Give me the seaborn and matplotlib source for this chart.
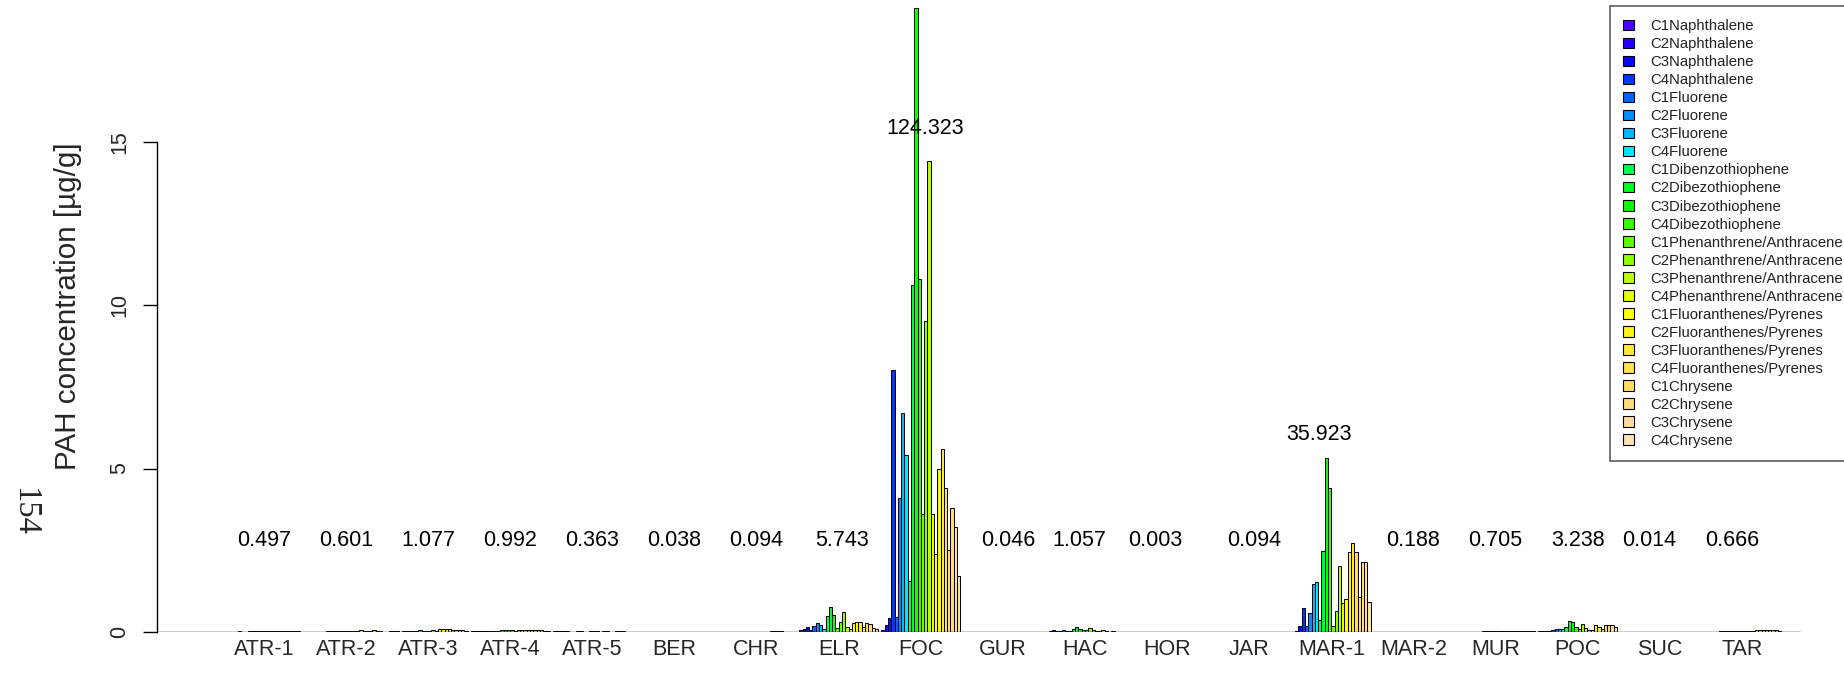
import numpy as np
import pandas as pd
import matplotlib
matplotlib.use("Agg")
import matplotlib.pyplot as plt
import matplotlib.patches as mpatches
import seaborn as sns

# ---------------- data ----------------
sites = ["ATR-1", "ATR-2", "ATR-3", "ATR-4", "ATR-5", "BER", "CHR", "ELR", "FOC",
         "GUR", "HAC", "HOR", "JAR", "MAR-1", "MAR-2", "MUR", "POC", "SUC", "TAR"]

compounds = ["C1Naphthalene", "C2Naphthalene", "C3Naphthalene", "C4Naphthalene",
             "C1Fluorene", "C2Fluorene", "C3Fluorene", "C4Fluorene",
             "C1Dibenzothiophene", "C2Dibezothiophene", "C3Dibezothiophene", "C4Dibezothiophene",
             "C1Phenanthrene/Anthracene", "C2Phenanthrene/Anthracene",
             "C3Phenanthrene/Anthracene", "C4Phenanthrene/Anthracene",
             "C1Fluoranthenes/Pyrenes", "C2Fluoranthenes/Pyrenes",
             "C3Fluoranthenes/Pyrenes", "C4Fluoranthenes/Pyrenes",
             "C1Chrysene", "C2Chrysene", "C3Chrysene", "C4Chrysene"]

totals = ["0.497", "0.601", "1.077", "0.992", "0.363", "0.038", "0.094", "5.743", "124.323",
          "0.046", "1.057", "0.003", "0.094", "35.923", "0.188", "0.705", "3.238", "0.014", "0.666"]

atr1 = [0.01, 0.015, 0.01, 0.015, 0.02, 0.015, 0.0, 0.02, 0.02, 0.025, 0.03, 0.03,
        0.025, 0.03, 0.03, 0.03, 0.03, 0.03, 0.03, 0.03, 0.025, 0.025, 0.02, 0.0]
atr2 = [0.0, 0.01, 0.0, 0.0, 0.015, 0.015, 0.02, 0.02, 0.02, 0.02, 0.025, 0.025,
        0.025, 0.025, 0.03, 0.03, 0.07, 0.03, 0.03, 0.03, 0.07, 0.03, 0.02, 0.0]
atr3 = [0.02, 0.02, 0.02, 0.0, 0.02, 0.03, 0.03, 0.03, 0.03, 0.06, 0.03, 0.03,
        0.04, 0.05, 0.03, 0.08, 0.09, 0.1, 0.08, 0.07, 0.06, 0.06, 0.05, 0.03]
atr4 = [0.02, 0.02, 0.02, 0.02, 0.02, 0.02, 0.02, 0.02, 0.03, 0.06, 0.06, 0.05,
        0.05, 0.04, 0.05, 0.06, 0.06, 0.06, 0.06, 0.06, 0.06, 0.06, 0.04, 0.03]
atr5 = [0.02, 0.02, 0.02, 0.02, 0.02, 0.0, 0.0, 0.02, 0.02, 0.0, 0.0, 0.02,
        0.02, 0.02, 0.0, 0.02, 0.02, 0.0, 0.0, 0.03, 0.03, 0.03, 0.0, 0.0]
ber = [0.0, 0.0, 0.0, 0.0, 0.0, 0.0, 0.0, 0.0, 0.0, 0.0, 0.0, 0.0,
       0.0, 0.0, 0.0, 0.0, 0.01, 0.01, 0.01, 0.008, 0.0, 0.0, 0.0, 0.0]
chr_ = [0.0, 0.0, 0.0, 0.0, 0.0, 0.0, 0.0, 0.0, 0.0, 0.0, 0.0, 0.0,
        0.0, 0.0, 0.015, 0.015, 0.016, 0.016, 0.016, 0.016, 0.0, 0.0, 0.0, 0.0]
elr = [0.05, 0.09, 0.15, 0.05, 0.19, 0.27, 0.21, 0.08, 0.48, 0.76, 0.51, 0.11,
       0.31, 0.6, 0.16, 0.08, 0.27, 0.31, 0.31, 0.14, 0.27, 0.25, 0.11, 0.09]
foc = [0.06, 0.2, 0.43, 8.0, 0.47, 4.1, 6.7, 5.4, 1.55, 10.6, 19.1, 10.8,
       3.6, 9.5, 14.4, 3.6, 2.4, 5.0, 5.6, 4.4, 2.5, 3.8, 3.2, 1.7]
gur = [0.0, 0.0, 0.0, 0.0, 0.0, 0.0, 0.0, 0.0, 0.0, 0.0, 0.0, 0.0,
       0.0, 0.0, 0.0, 0.0, 0.01, 0.01, 0.009, 0.009, 0.008, 0.0, 0.0, 0.0]
hac = [0.01, 0.02, 0.05, 0.02, 0.03, 0.05, 0.02, 0.02, 0.1, 0.16, 0.08, 0.07,
       0.06, 0.12, 0.05, 0.02, 0.03, 0.06, 0.02, 0.01, 0.02, 0.01, 0.01, 0.01]
hor = [0.0, 0.0, 0.0, 0.0, 0.0, 0.0, 0.0, 0.0, 0.0, 0.0, 0.003, 0.0,
       0.0, 0.0, 0.0, 0.0, 0.0, 0.0, 0.0, 0.0, 0.0, 0.0, 0.0, 0.0]
jar = [0.0, 0.0, 0.0, 0.0, 0.0, 0.0, 0.0, 0.0, 0.0, 0.0, 0.0, 0.0,
       0.0, 0.0, 0.0, 0.0, 0.012, 0.012, 0.012, 0.012, 0.012, 0.012, 0.011, 0.011]
mar1 = [0.01, 0.04, 0.18, 0.74, 0.19, 0.57, 1.46, 1.52, 0.37, 2.47, 5.32, 4.4,
        0.19, 0.65, 2.03, 0.9, 1.01, 2.46, 2.71, 2.44, 1.06, 2.15, 2.15, 0.93]
mar2 = [0.0, 0.0, 0.0, 0.0, 0.0, 0.0, 0.0, 0.0, 0.012, 0.012, 0.013, 0.013,
        0.013, 0.013, 0.013, 0.013, 0.013, 0.013, 0.013, 0.013, 0.013, 0.012, 0.012, 0.0]
mur = [0.015, 0.015, 0.015, 0.015, 0.015, 0.015, 0.015, 0.015, 0.03, 0.03, 0.03, 0.03,
       0.03, 0.03, 0.03, 0.03, 0.04, 0.04, 0.04, 0.04, 0.04, 0.04, 0.04, 0.04]
poc = [0.02, 0.04, 0.04, 0.04, 0.06, 0.08, 0.1, 0.1, 0.14, 0.33, 0.3, 0.16,
       0.1, 0.25, 0.12, 0.06, 0.07, 0.2, 0.16, 0.08, 0.2, 0.2, 0.2, 0.15]
suc = [0.0, 0.0, 0.0, 0.0, 0.0, 0.0, 0.0, 0.0, 0.0, 0.0, 0.0, 0.0,
       0.0, 0.0, 0.0, 0.0, 0.007, 0.007, 0.0, 0.0, 0.0, 0.0, 0.0, 0.0]
tar = [0.0, 0.0, 0.0, 0.0, 0.0, 0.02, 0.02, 0.02, 0.02, 0.02, 0.02, 0.02,
       0.03, 0.03, 0.03, 0.03, 0.05, 0.06, 0.06, 0.06, 0.06, 0.05, 0.05, 0.04]

site_values = [atr1, atr2, atr3, atr4, atr5, ber, chr_, elr, foc, gur, hac, hor,
               jar, mar1, mar2, mur, poc, suc, tar]

# topo-style colour ramp (R topo.colors(24))
colors = ["#4D00FF", "#2100FF", "#000BFF", "#0037FF", "#0062FF", "#008EFF", "#00BAFF", "#00E6FF",
          "#00FF4D", "#00FF21", "#0BFF00", "#37FF00", "#62FF00", "#8EFF00", "#BAFF00", "#E6FF00",
          "#FFFF00", "#FFF21A", "#FFE833", "#FFE04D", "#FFDC66", "#FFDB80", "#FFDC99", "#FFE0B3"]

# ---------------- layout ----------------
W, H = 1844, 694
ax_left, ax_base = 157, 632          # pixel position of y-axis and baseline
group_px = 82.1
first_center = 264
unit_px = 32.69
# small horizontal nudges (pixels) of the total labels relative to the group centres
label_dx_px = [0, 0, 0, 0, 0, 0, 0, 3, 4, 5, -6, -12, 5, -12, 0, 0, 0, -11, -10]

# ---------------- figure ----------------
sns.set_style("white")
plt.rcParams["font.family"] = ["Liberation Sans", "DejaVu Sans"]

fig = plt.figure(figsize=(W / 100, H / 100), dpi=100)
ax = fig.add_axes([ax_left / W, (H - ax_base) / H, (W - ax_left) / W, ax_base / H])

rows = []
for s, vals in zip(sites, site_values):
    for c, v in zip(compounds, vals):
        rows.append({"site": s, "compound": c, "value": v})
df = pd.DataFrame(rows)

sns.barplot(data=df, x="site", y="value", hue="compound", order=sites, hue_order=compounds,
            palette=colors, saturation=1, width=0.96, gap=0, errorbar=None,
            edgecolor="black", linewidth=0.7, legend=False, ax=ax)

ax.set_xlim(-(first_center - ax_left) / group_px, (W - first_center) / group_px)
ax.set_ylim(0, ax_base / unit_px)

# baseline
ax.axhline(0, xmin=0, xmax=(1800 - ax_left) / (W - ax_left), color="black", lw=1.0, zorder=5)

for sp in ["top", "right", "bottom"]:
    ax.spines[sp].set_visible(False)
ax.spines["left"].set_bounds(0, 15)
ax.spines["left"].set_linewidth(1.0)
ax.spines["left"].set_color("black")

ax.set_yticks([0, 5, 10, 15])
ax.set_yticklabels(["0", "5", "10", "15"])
ax.tick_params(axis="y", length=10, width=1.0, pad=9, labelsize=15.5, labelrotation=90,
               color="black", left=True)
for lbl in ax.get_yticklabels():
    lbl.set_va("center")

ax.set_xticks(range(len(sites)))
ax.set_xticklabels(sites)
ax.tick_params(axis="x", length=0, pad=5.3, labelsize=15.5)
ax.set_xlabel("")
ax.set_ylabel("")

# total labels
label_y = {s: 2.8 for s in sites}
label_y["FOC"] = 15.4
label_y["MAR-1"] = 6.03
for i, (s, t) in enumerate(zip(sites, totals)):
    ax.text(i + label_dx_px[i] / group_px, label_y[s], t, ha="center", va="center",
            fontsize=15.5, color="black")

# y label and page number
fig.text(68 / W, 1 - 306 / H, "PAH concentration [µg/g]", rotation=90,
         ha="center", va="center", fontsize=21.3)
fig.text(24 / W, 1 - 511 / H, "154", rotation=-90, ha="center", va="center",
         fontsize=23.5, family=["Liberation Serif", "DejaVu Serif"])

# legend
handles = [mpatches.Patch(facecolor=c, edgecolor="black", linewidth=0.8) for c in colors]
leg = ax.legend(handles, compounds, loc="upper left",
                bbox_to_anchor=(1610 / W, 1 - 6 / H), bbox_transform=fig.transFigure,
                borderaxespad=0, fontsize=10.7, frameon=True, fancybox=False,
                handlelength=0.7, handleheight=0.7, handletextpad=1.1,
                labelspacing=0.27, borderpad=0.9)
leg.get_frame().set_edgecolor("#333333")
leg.get_frame().set_linewidth(1.2)
for t in leg.get_texts():
    t.set_color("#222222")

fig.savefig("out.png", dpi=100)
